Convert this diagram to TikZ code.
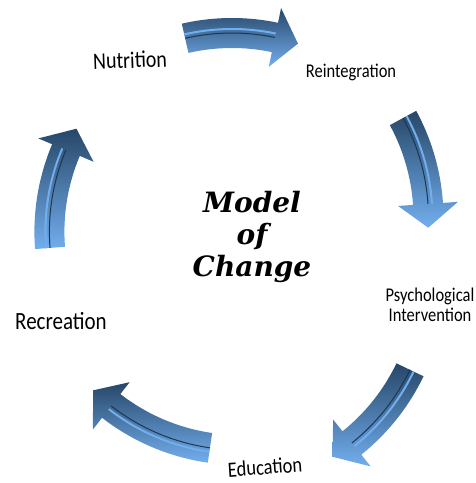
\documentclass[tikz,border=0pt]{standalone}
\usepackage{fontspec}
\setmainfont{Carlito}
\newfontfamily\titlefont{DejaVu Serif}
\definecolor{arrowdark}{HTML}{1E3750}
\definecolor{arrowmid}{HTML}{4A86C4}
\definecolor{arrowlight}{HTML}{72AEEE}
\tikzset{
  stagelabel/.style={inner sep=0pt, text=black},
  bodyshade/.style={top color=arrowdark!80!arrowmid, middle color=arrowmid, bottom color=arrowlight}
}
\newcommand{\tall}[1]{\scalebox{1}[1.18]{#1}}
% centre x, centre y, tail angle, head angle, tip angle
\newcommand{\arcarrow}[5]{%
  \begin{scope}[shift={(#1,#2)}]
    \shade[bodyshade] (#3:195pt) arc[start angle=#3, end angle=#4, radius=195pt]
      -- (#4:180pt) -- (#5:210pt) -- (#4:240pt) -- (#4:225pt)
      arc[start angle=#4, end angle=#3, radius=225pt] -- cycle;
    \draw[arrowlight, line width=2pt] (#3:214pt) arc[start angle=#3, end angle=#4, radius=214pt];
    \draw[arrowdark, line width=1pt] (#3:210pt) arc[start angle=#3, end angle=#4, radius=210pt];
  \end{scope}}
\begin{document}
\begin{tikzpicture}[x=1pt, y=1pt]
  \useasboundingbox (0, 0) rectangle (475, 483);
  \arcarrow{232}{240}{102.9}{78.2}{71.7}
  \arcarrow{218.5}{264.8}{28.5}{3.9}{-2.6}
  \arcarrow{220.6}{203.9}{-25.6}{-51.3}{-57.8}
  \arcarrow{239.9}{243}{261.8}{232.2}{225.7}
  \arcarrow{259.4}{251.2}{184.4}{157.1}{150.6}
  \node (model) at (252, 246) [align=center, font=\titlefont\bfseries\itshape\fontsize{28}{32}\selectfont] {Model\\of\\Change};
  \node (nutrition) at (130, 423) [stagelabel, font=\fontsize{20}{24}\selectfont, rotate=2] {\tall{Nutrition}};
  \node (reintegration) at (351, 411) [stagelabel, font=\fontsize{16.5}{20}\selectfont] {\tall{Reintegration}};
  \node (psych) at (430, 176) [stagelabel, font=\fontsize{16.5}{20}\selectfont] {\tall{\begin{tabular}{@{}c@{}}Psychological\\[-3pt]Intervention\end{tabular}}};
  \node (education) at (265, 16) [stagelabel, font=\fontsize{18.5}{22}\selectfont, rotate=4] {\tall{Education}};
  \node (recreation) at (61, 162) [stagelabel, font=\fontsize{21}{25}\selectfont] {\tall{Recreation}};
\end{tikzpicture}
\end{document}
